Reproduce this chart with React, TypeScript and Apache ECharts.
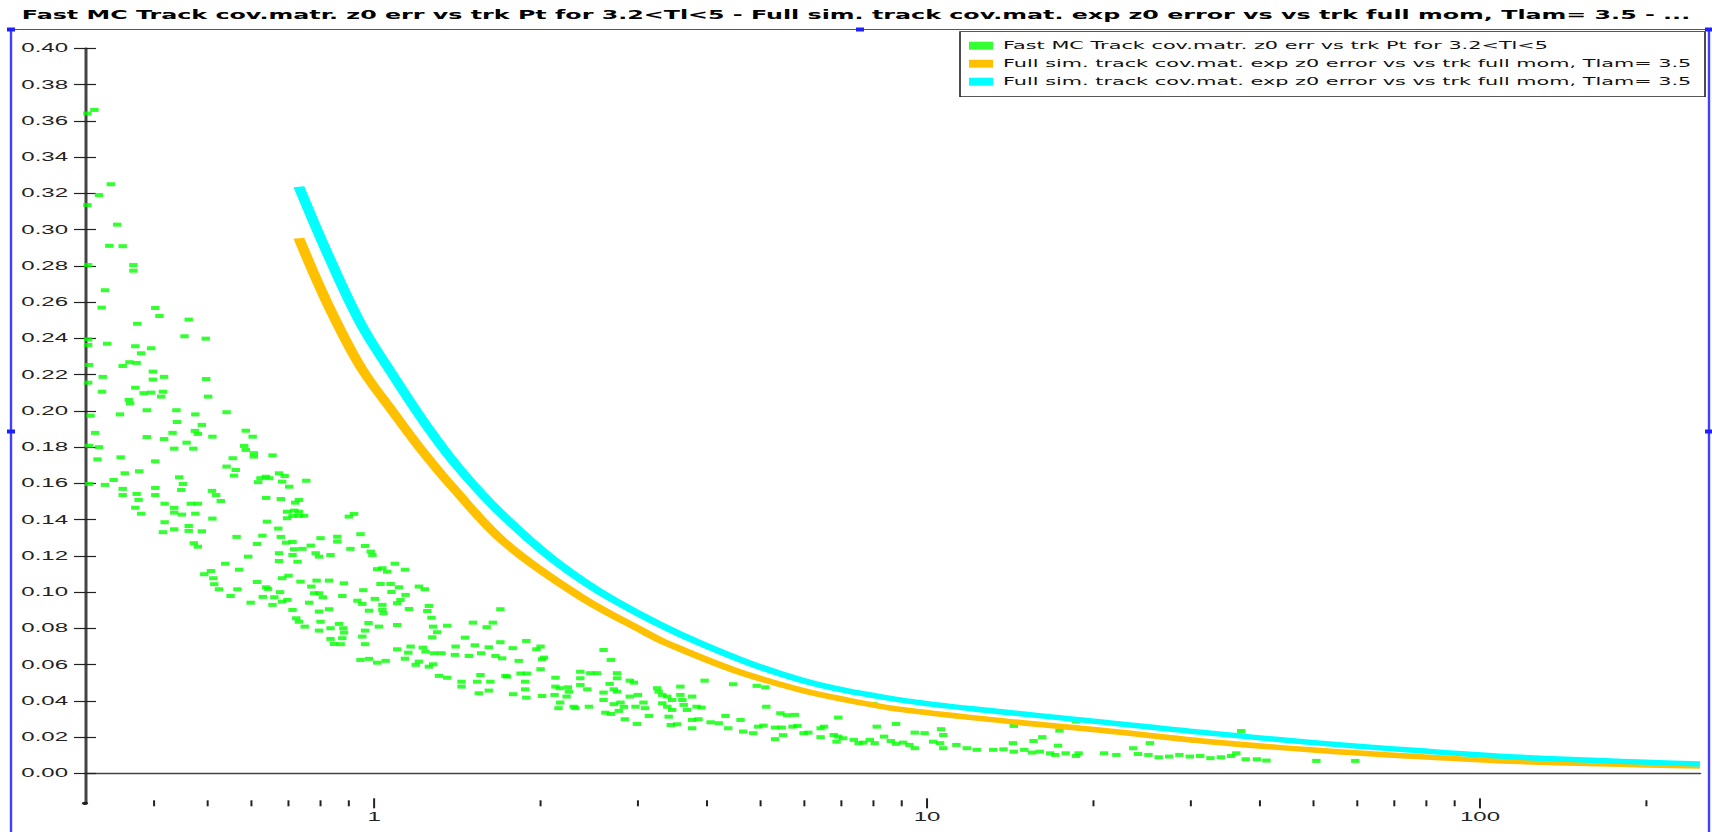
import React, { useEffect, useRef } from 'react';
import * as echarts from 'echarts';

// ---------- text ----------
const TITLE =
  'Fast MC Track cov.matr. z0 err vs trk Pt for 3.2<Tl<5 - Full sim. track cov.mat. exp z0 error vs vs trk full mom, Tlam= 3.5 - ...';
const SERIES_KEYS = ['fast', 'fullA', 'fullB'];
const SERIES_LABELS: Record<string, string> = {
  fast: 'Fast MC Track cov.matr. z0 err vs trk Pt for 3.2<Tl<5',
  fullA: 'Full sim. track cov.mat. exp z0 error vs vs trk full mom, Tlam= 3.5',
  fullB: 'Full sim. track cov.mat. exp z0 error vs vs trk full mom, Tlam= 3.5',
};
const SERIES_COLORS = ['#00ff00', '#ffc000', '#00ffff'];

// ---------- axes ----------
const X_MIN = 0.3;
const X_MAX = 250;
const Y_MIN = -0.0166;
const Y_MAX = 0.4;
const Y_TICK_STEP = 0.02;
const X_LABELS = [1, 10, 100];
const X_MINOR_TICKS = [0.4, 0.5, 0.6, 0.7, 0.8, 0.9, 2, 3, 4, 5, 6, 7, 8, 9, 20, 30, 40, 50, 60, 70, 80, 90, 200];

// ---------- data ----------
const FULL_SIM_ORANGE: [number, number][] = [
  [0.731, 0.2952], [0.823, 0.2593], [0.945, 0.2243], [1.086, 0.1986], [1.205, 0.1802],
  [1.384, 0.1581], [1.728, 0.1269], [2.361, 0.0974], [3.116, 0.0772], [3.386, 0.0717],
  [4.467, 0.057], [5.896, 0.046], [7.16, 0.0404], [8.96, 0.0352], [13.75, 0.0289],
  [21.2, 0.0233], [32.5, 0.0174], [50, 0.0128], [77, 0.0092], [118.6, 0.0064], [250, 0.004],
];

const FULL_SIM_CYAN: [number, number][] = [
  [0.731, 0.3236], [0.823, 0.2869], [0.945, 0.2483], [1.086, 0.2188], [1.248, 0.1912],
  [1.433, 0.1673], [1.7, 0.143], [2.113, 0.1177], [2.712, 0.0956], [3.89, 0.0717],
  [5.9, 0.0515], [8.96, 0.0404], [13.75, 0.0338], [21.2, 0.0279], [32.5, 0.0221],
  [50, 0.0169], [77, 0.0125], [118.6, 0.0088], [250, 0.0051],
];

const FAST_MC_LOW_PT: [number, number][] = [
  [0.303, 0.364], [0.312, 0.366], [0.303, 0.3135], [0.318, 0.319], [0.334, 0.325], [0.343, 0.3027],
  [0.332, 0.291], [0.351, 0.2908], [0.304, 0.2804], [0.367, 0.2804], [0.367, 0.2773], [0.326, 0.2665],
  [0.3215, 0.2569], [0.373, 0.248], [0.402, 0.2567], [0.409, 0.2523], [0.462, 0.2503], [0.454, 0.2411],
  [0.304, 0.2394], [0.304, 0.2363], [0.329, 0.237], [0.37, 0.2356], [0.379, 0.2317], [0.395, 0.2345],
  [0.361, 0.2268], [0.372, 0.2264], [0.351, 0.2247], [0.305, 0.2253], [0.398, 0.2216], [0.398, 0.2172],
  [0.323, 0.2187], [0.417, 0.2187], [0.304, 0.2155], [0.322, 0.2105], [0.37, 0.2127], [0.415, 0.2105],
  [0.412, 0.2078], [0.383, 0.2097], [0.395, 0.21], [0.36, 0.206], [0.362, 0.2041], [0.307, 0.1973],
  [0.347, 0.198], [0.388, 0.2003], [0.439, 0.2003], [0.44, 0.1938], [0.475, 0.198], [0.313, 0.1878],
  [0.388, 0.1855], [0.417, 0.1844], [0.432, 0.1878], [0.474, 0.1889], [0.48, 0.1872], [0.458, 0.1824],
  [0.305, 0.1807], [0.318, 0.1799], [0.435, 0.1791], [0.471, 0.1791], [0.316, 0.1732], [0.348, 0.1743],
  [0.402, 0.1721], [0.305, 0.1596], [0.326, 0.1591], [0.338, 0.1618], [0.354, 0.1655], [0.376, 0.1666],
  [0.444, 0.1633], [0.451, 0.1596], [0.351, 0.1569], [0.351, 0.1535], [0.372, 0.1541], [0.375, 0.1508],
  [0.402, 0.1574], [0.402, 0.1535], [0.448, 0.1563], [0.418, 0.1487], [0.435, 0.1464], [0.466, 0.1487],
  [0.48, 0.1487], [0.37, 0.1465], [0.379, 0.1432], [0.435, 0.1438], [0.449, 0.1427], [0.475, 0.1432],
  [0.418, 0.1385], [0.415, 0.133], [0.435, 0.1346], [0.462, 0.1364], [0.462, 0.1337], [0.472, 0.1269],
  [0.48, 0.125],
];

const FAST_MC_MID_PT: [number, number][] = [
  [0.496, 0.2398], [0.497, 0.2175], [0.501, 0.2078], [0.541, 0.1992], [0.488, 0.1922], [0.51, 0.1857],
  [0.586, 0.189], [0.603, 0.1857], [0.582, 0.1806], [0.586, 0.1784], [0.606, 0.1766], [0.606, 0.1747],
  [0.555, 0.1738], [0.655, 0.1754], [0.541, 0.1692], [0.562, 0.1673], [0.558, 0.1642], [0.623, 0.1628],
  [0.637, 0.1636], [0.646, 0.1628], [0.673, 0.1655], [0.689, 0.164], [0.617, 0.1606], [0.754, 0.1614],
  [0.682, 0.1609], [0.702, 0.1581],
  [0.509, 0.1558], [0.518, 0.1535], [0.528, 0.1502], [0.51, 0.1405], [0.488, 0.1335], [0.564, 0.1304],
  [0.592, 0.1195], [0.614, 0.1265], [0.628, 0.1311], [0.638, 0.1519], [0.64, 0.1388], [0.678, 0.1513],
  [0.671, 0.135], [0.678, 0.1304], [0.673, 0.1214], [0.673, 0.1171], [0.696, 0.1443], [0.717, 0.1449],
  [0.731, 0.1443], [0.696, 0.1407], [0.712, 0.142], [0.731, 0.142], [0.747, 0.1421], [0.731, 0.1508],
  [0.72, 0.1493], [0.693, 0.1272], [0.712, 0.1276], [0.712, 0.1204], [0.727, 0.1167], [0.717, 0.1236],
  [0.742, 0.1238], [0.768, 0.1256], [0.784, 0.1214], [0.795, 0.1195], [0.8, 0.1297], [0.834, 0.1204],
  [0.858, 0.1305], [0.858, 0.1278], [0.906, 0.1238], [0.9, 0.1416], [0.92, 0.1431], [0.945, 0.1319],
  [0.963, 0.1254], [0.986, 0.1223], [0.993, 0.1204], [1.013, 0.1126], [1.035, 0.1131], [1.056, 0.1112],
  [1.09, 0.1156], [1.137, 0.1123], [0.538, 0.1156], [0.57, 0.1123], [0.493, 0.1098], [0.507, 0.1116],
  [0.512, 0.1076], [0.514, 0.1043], [0.524, 0.1015], [0.55, 0.0978], [0.566, 0.1015], [0.598, 0.0941],
  [0.614, 0.1055], [0.638, 0.1026], [0.643, 0.1017], [0.629, 0.0973], [0.66, 0.0971], [0.676, 0.0999],
  [0.655, 0.0929], [0.682, 0.0947], [0.697, 0.0956], [0.682, 0.1076], [0.7, 0.109], [0.736, 0.1057],
  [0.787, 0.1063], [0.829, 0.1063], [0.77, 0.103], [0.779, 0.0993], [0.795, 0.0993], [0.808, 0.0971],
  [0.763, 0.0941], [0.712, 0.0901], [0.795, 0.0892], [0.829, 0.0905], [0.723, 0.0855], [0.731, 0.0836],
  [0.749, 0.0809], [0.8, 0.0836], [0.795, 0.0787], [0.834, 0.08], [0.864, 0.0824], [0.88, 0.08],
  [0.882, 0.0776], [0.834, 0.0741], [0.876, 0.0745], [0.846, 0.0713], [0.87, 0.0712], [0.882, 0.1048],
  [0.876, 0.0978], [0.933, 0.0952], [0.952, 0.0934], [0.956, 0.101], [0.979, 0.0897], [0.977, 0.0829],
  [0.963, 0.0787], [0.952, 0.0754], [0.963, 0.0712], [1.003, 0.0962], [1.02, 0.0809], [1.027, 0.1044],
  [1.071, 0.1044], [1.035, 0.0929], [1.035, 0.0901], [1.04, 0.0883], [1.075, 0.1], [1.109, 0.1026],
  [1.101, 0.0938], [1.116, 0.0956], [1.14, 0.0984], [1.101, 0.0818], [1.156, 0.0906], [1.205, 0.103],
  [1.235, 0.1015], [1.101, 0.0684], [1.164, 0.0699], [1.153, 0.0665], [1.225, 0.0693], [1.239, 0.0671],
  [1.283, 0.0662], [1.324, 0.0662], [1.256, 0.0923], [1.248, 0.0895], [1.27, 0.0858], [1.279, 0.0809],
  [1.3, 0.0778], [1.274, 0.075], [0.945, 0.0625], [0.979, 0.0631], [1.013, 0.061], [1.049, 0.062],
  [1.137, 0.0632], [1.189, 0.0598], [1.205, 0.0616], [1.256, 0.0588], [1.279, 0.0601], [1.31, 0.0537],
  [1.356, 0.0527], [1.356, 0.0814], [1.404, 0.0699], [1.4, 0.0653], [1.484, 0.0647], [1.46, 0.0748],
  [1.509, 0.0831], [1.521, 0.0706], [1.562, 0.0662], [1.612, 0.0695], [1.598, 0.0806], [1.639, 0.0831],
  [1.692, 0.0905], [1.692, 0.0723], [1.658, 0.0647], [1.704, 0.0634], [1.439, 0.0505], [1.439, 0.0478],
  [1.536, 0.0505], [1.623, 0.0505], [1.546, 0.0441], [1.612, 0.0456], [1.557, 0.0542], [1.728, 0.0537],
];

const FAST_MC_HIGH_PT: [number, number][] = [
  [1.885, 0.073], [1.781, 0.069], [2.0, 0.0699], [1.966, 0.0684], [2.028, 0.0638], [2.013, 0.0629],
  [1.826, 0.062], [2.6, 0.068], [2.68, 0.0625], [2.0, 0.0574], [1.84, 0.055], [1.89, 0.055],
  [1.74, 0.0533], [1.876, 0.0505], [1.876, 0.0463], [1.784, 0.0436], [1.885, 0.0417], [2.013, 0.0426],
  [2.128, 0.0527], [2.128, 0.0478], [2.165, 0.0469], [2.24, 0.0474], [2.25, 0.045], [2.12, 0.0432],
  [2.229, 0.0423], [2.17, 0.039], [2.155, 0.0359], [2.296, 0.0367], [2.313, 0.0359], [2.446, 0.0367],
  [2.36, 0.056], [2.46, 0.0552], [2.53, 0.0552], [2.36, 0.0524], [2.36, 0.0487], [2.43, 0.0463],
  [2.75, 0.0552], [2.75, 0.0524], [2.667, 0.0493], [2.9, 0.0511], [2.95, 0.05], [2.6, 0.0445],
  [2.713, 0.0463], [2.75, 0.045], [2.6, 0.0404], [2.713, 0.0381], [2.79, 0.039], [2.83, 0.0366],
  [2.62, 0.0334], [2.68, 0.0327], [2.77, 0.0344], [2.84, 0.0298], [2.987, 0.0272], [2.9, 0.0423],
  [3.0, 0.0432], [2.97, 0.0367], [3.07, 0.039], [3.09, 0.0359], [3.25, 0.0469], [3.27, 0.045],
  [3.32, 0.0432], [3.39, 0.0423], [3.46, 0.0404], [3.32, 0.0386], [3.39, 0.0367], [3.46, 0.0349],
  [3.14, 0.0316], [3.41, 0.0312], [3.44, 0.0266], [3.53, 0.027], [3.58, 0.0478], [3.58, 0.0432],
  [3.61, 0.0404], [3.63, 0.0377], [3.76, 0.0423], [3.68, 0.0349], [3.83, 0.0367], [3.91, 0.0362],
  [3.76, 0.0294], [3.86, 0.0298], [3.76, 0.0248], [3.96, 0.0511], [4.46, 0.0491], [4.32, 0.0316],
  [4.06, 0.0281], [4.2, 0.0276], [4.37, 0.0248], [4.6, 0.0294], [4.65, 0.023], [4.85, 0.0221],
  [4.92, 0.0482], [5.1, 0.0474], [4.95, 0.0257], [5.06, 0.0263], [5.12, 0.0367], [5.31, 0.0188],
  [5.31, 0.0252], [5.46, 0.0252], [5.43, 0.0331], [5.58, 0.032], [5.49, 0.021], [5.77, 0.0322],
  [5.71, 0.0257], [5.83, 0.0261], [5.98, 0.0221], [6.1, 0.0224], [6.42, 0.0248], [6.51, 0.0257],
  [6.42, 0.0199], [6.91, 0.0307], [6.78, 0.0211], [6.91, 0.0202], [7.05, 0.0193], [6.86, 0.0174],
  [7.37, 0.0184], [7.52, 0.0166], [7.67, 0.0169], [7.88, 0.0184], [8.04, 0.0166], [7.99, 0.0382],
  [8.11, 0.0257], [8.79, 0.0272], [8.36, 0.0202], [8.6, 0.0178], [8.79, 0.0162], [9.05, 0.0169],
  [9.29, 0.0156], [9.5, 0.0138], [9.5, 0.0224], [9.9, 0.0221], [10.26, 0.0174], [10.56, 0.0166],
  [10.7, 0.0138], [10.6, 0.0243], [10.7, 0.0211], [11.3, 0.0156], [11.8, 0.0138], [12.3, 0.0129],
  [14.35, 0.0261], [16.16, 0.0199], [15.58, 0.0178], [17.25, 0.0152], [17.36, 0.0235], [18.59, 0.0285],
  [14.3, 0.0166], [13.17, 0.0129], [13.75, 0.0132], [14.35, 0.0119], [14.99, 0.0129], [15.48, 0.0114],
  [15.99, 0.0119], [16.7, 0.011], [17.06, 0.0101], [17.81, 0.011], [18.8, 0.011], [18.6, 0.0095],
  [20.9, 0.011], [22.0, 0.0101], [23.6, 0.0138], [24.07, 0.0106], [25.14, 0.0101], [26.24, 0.0088],
  [27.41, 0.0092], [28.6, 0.0101], [29.87, 0.0092], [31.19, 0.0095], [32.55, 0.0083], [33.99, 0.0088],
  [35.47, 0.0095], [36.25, 0.011], [25.3, 0.0166], [30.5, 0.018], [37.0, 0.0233], [37.7, 0.0077],
  [39.5, 0.0077], [41.1, 0.007], [50.6, 0.0068], [59.5, 0.0068],
];

// The original picture is stretched horizontally; the chart is drawn at half width and scaled.
const STRETCH = 2;
const FULL_W = 1712;
const FULL_H = 832;

export default function App() {
  const ref = useRef<HTMLDivElement>(null);

  useEffect(() => {
    if (!ref.current) return;
    const chart = echarts.init(ref.current, undefined, { renderer: 'svg' });
    const fastPoints = [...FAST_MC_LOW_PT, ...FAST_MC_MID_PT, ...FAST_MC_HIGH_PT];
    const tickData = [
      ...X_MINOR_TICKS.map((v) => [v, Y_MIN, 0]),
      ...X_LABELS.map((v) => [v, Y_MIN, 1]),
    ];
    const isPow10 = (v: number) => {
      const l = Math.log10(v);
      return Math.abs(l - Math.round(l)) < 1e-6;
    };
    const gridPos = { left: 42.5, right: 6 };
    const frameColor = '#4040ff';

    const option: any = {
      animation: false,
      backgroundColor: '#ffffff',
      title: {
        text: TITLE,
        left: 'center',
        top: 8,
        padding: 0,
        textStyle: {
          fontFamily: 'DejaVu Sans',
          fontWeight: 'bold',
          fontSize: 11.9,
          lineHeight: 13,
          color: '#000000',
        },
      },
      legend: {
        data: SERIES_KEYS,
        formatter: (name: string) => SERIES_LABELS[name],
        orient: 'vertical',
        left: 480,
        top: 31.7,
        padding: [8, 3, 9, 4.5],
        itemGap: 6,
        itemWidth: 12,
        itemHeight: 8,
        icon: 'rect',
        borderWidth: 0,
        selectedMode: false,
        z: 20,
        textStyle: {
          fontFamily: 'DejaVu Sans',
          fontSize: 10.4,
          lineHeight: 12,
          color: '#111111',
        },
      },
      grid: [
        { ...gridPos, top: 48.3, bottom: FULL_H - 803.3 },
        { ...gridPos, top: 48.3, bottom: FULL_H - 773.3 },
      ],
      xAxis: [
        {
          gridIndex: 0,
          type: 'log',
          logBase: 10,
          min: X_MIN,
          max: X_MAX,
          axisLine: { show: true, lineStyle: { color: '#444444', width: 1.4 } },
          axisTick: { show: false },
          splitLine: { show: false },
          minorTick: { show: false },
          axisLabel: {
            show: true,
            margin: 8,
            fontFamily: 'Liberation Sans, Arial, sans-serif',
            fontSize: 12,
            color: '#222222',
            showMinLabel: false,
            showMaxLabel: false,
            formatter: (v: number) => (isPow10(v) ? String(Math.round(v)) : ''),
          },
        },
        { gridIndex: 1, type: 'value', show: false, min: 0, max: 1 },
      ],
      yAxis: [
        {
          gridIndex: 0,
          type: 'value',
          min: Y_MIN,
          max: Y_MAX,
          axisLine: { show: true, lineStyle: { color: '#444444', width: 1.5 } },
          axisTick: { show: false },
          axisLabel: { show: false },
          splitLine: { show: false },
        },
        {
          gridIndex: 1,
          type: 'value',
          min: 0,
          max: Y_MAX,
          interval: Y_TICK_STEP,
          offset: -5.5,
          axisLine: { show: false },
          axisTick: { show: true, length: 11, lineStyle: { color: '#222222', width: 1.2 } },
          splitLine: { show: false },
          axisLabel: {
            margin: 14,
            fontFamily: 'Liberation Sans, Arial, sans-serif',
            fontSize: 12,
            color: '#222222',
            formatter: (v: number) => v.toFixed(2),
          },
        },
      ],
      series: [
        {
          name: 'fast',
          type: 'scatter',
          xAxisIndex: 0,
          yAxisIndex: 0,
          data: fastPoints,
          symbol: 'rect',
          symbolSize: [4.2, 4],
          color: SERIES_COLORS[0],
          itemStyle: { color: SERIES_COLORS[0] },
          silent: true,
          z: 3,
        },
        {
          name: 'fullA',
          type: 'line',
          xAxisIndex: 0,
          yAxisIndex: 0,
          data: FULL_SIM_ORANGE,
          smooth: 0.35,
          showSymbol: false,
          symbol: 'none',
          color: SERIES_COLORS[1],
          itemStyle: { color: SERIES_COLORS[1] },
          lineStyle: { color: SERIES_COLORS[1], width: 5.5, cap: 'butt' },
          silent: true,
          z: 4,
        },
        {
          name: 'fullB',
          type: 'line',
          xAxisIndex: 0,
          yAxisIndex: 0,
          data: FULL_SIM_CYAN,
          smooth: 0.35,
          showSymbol: false,
          symbol: 'none',
          color: SERIES_COLORS[2],
          itemStyle: { color: SERIES_COLORS[2] },
          lineStyle: { color: SERIES_COLORS[2], width: 5.5, cap: 'butt' },
          silent: true,
          z: 4,
        },
        {
          name: 'xticks',
          type: 'custom',
          xAxisIndex: 0,
          yAxisIndex: 0,
          data: tickData,
          clip: false,
          silent: true,
          z: 5,
          renderItem: (params: any, api: any) => {
            const p = api.coord([api.value(0), api.value(1)]);
            const h = api.value(2) ? 5 : 3;
            return {
              type: 'line',
              shape: { x1: p[0], y1: p[1] - h, x2: p[0], y2: p[1] + h },
              style: { stroke: '#222222', lineWidth: 1 },
            };
          },
        },
      ],
      graphic: [
        {
          type: 'rect',
          shape: { x: 5.5, y: 29.5, width: 849, height: 803 },
          style: { fill: 'none', stroke: frameColor, lineWidth: 1.2 },
          silent: true,
          z: 10,
        },
        {
          type: 'rect',
          shape: { x: 480, y: 31.7, width: 372.5, height: 65 },
          style: { fill: '#ffffff', stroke: '#222222', lineWidth: 0.8 },
          silent: true,
          z: 12,
        },
        ...[
          [5.5, 29.5],
          [430, 29.5],
          [854.5, 29.5],
          [5.5, 431.5],
          [854.5, 431.5],
        ].map(([cx, cy]) => ({
          type: 'rect',
          shape: { x: cx - 2, y: cy - 2, width: 4, height: 4 },
          style: { fill: '#2020ff' },
          silent: true,
          z: 11,
        })),
        {
          type: 'circle',
          shape: { cx: 42.5, cy: 803.3, r: 1.6 },
          style: { fill: '#222222' },
          silent: true,
          z: 11,
        },
      ],
    };

    chart.setOption(option);
    return () => chart.dispose();
  }, []);

  return (
    <div
      style={{
        position: 'absolute',
        left: 0,
        top: 0,
        width: FULL_W,
        height: FULL_H,
        overflow: 'hidden',
        background: '#ffffff',
      }}
    >
      <div
        ref={ref}
        style={{
          width: FULL_W / STRETCH,
          height: FULL_H,
          transform: `scaleX(${STRETCH})`,
          transformOrigin: '0 0',
        }}
      />
    </div>
  );
}
